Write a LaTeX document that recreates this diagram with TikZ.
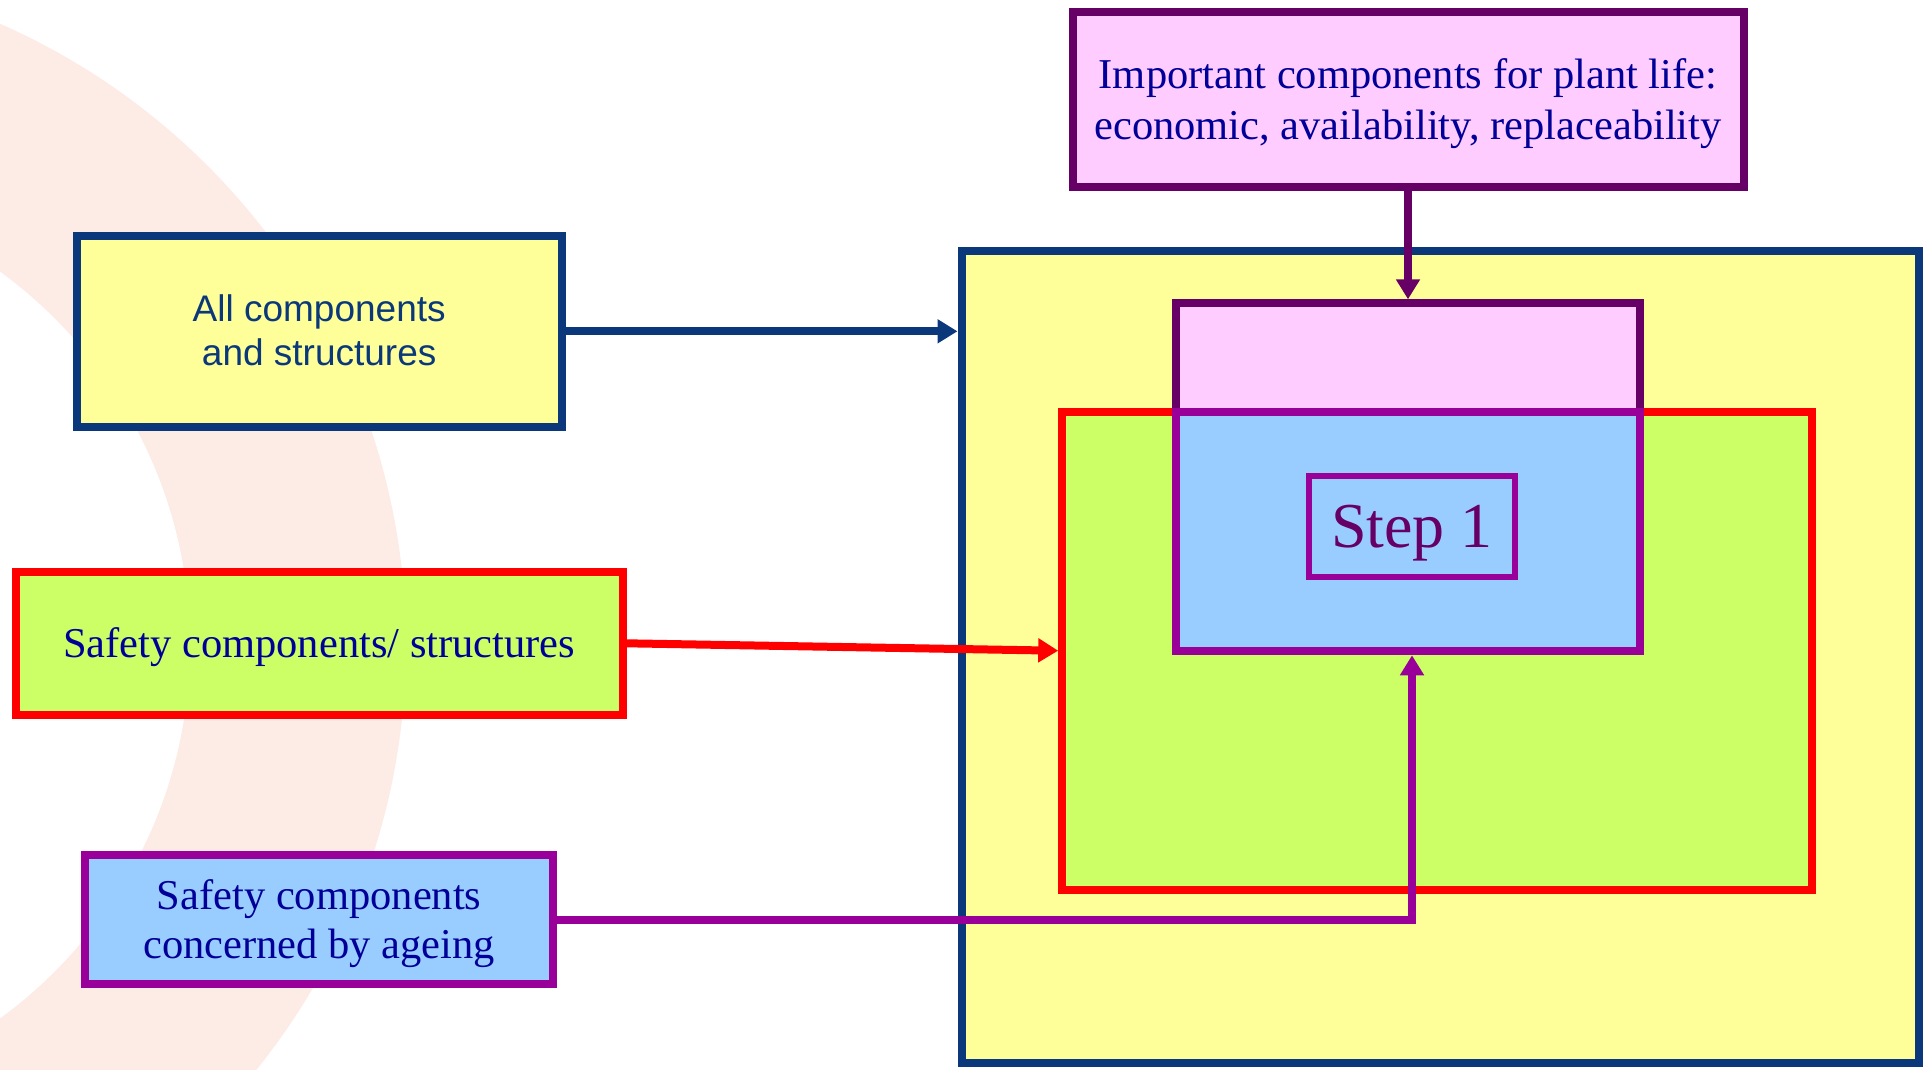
\documentclass[tikz,border=0pt]{standalone}
\usepackage{fontspec}
\setmainfont{Liberation Serif}
\newfontfamily\arialfont{Liberation Sans}
\usepackage{tikz}
\usetikzlibrary{arrows.meta, positioning}
\definecolor{my_navy}{RGB}{10, 56, 122}
\definecolor{my_yellow}{RGB}{255, 255, 153}
\definecolor{my_green}{RGB}{204, 255, 102}
\definecolor{my_blue}{RGB}{153, 204, 255}
\definecolor{my_pink}{RGB}{255, 204, 255}
\definecolor{my_red}{RGB}{255, 0, 0}
\definecolor{my_purple}{RGB}{153, 0, 153}
\definecolor{my_plum}{RGB}{102, 0, 102}
\definecolor{my_ink}{RGB}{0, 0, 153}
\definecolor{my_peach}{RGB}{253, 235, 229}
\newcommand{\ppstrut}{\rule[-0.216em]{0pt}{1.107em}}
\tikzset {
  box/.style = {draw, line width=8pt, rectangle, inner sep=0pt, align=center},
  rmtext/.style = {font=\fontsize{42.5pt}{51pt}\selectfont, text=my_ink},
  sftext/.style = {font=\arialfont\fontsize{37pt}{44.4pt}\selectfont, text=my_navy},
  line/.style = {->, line width=8pt, >={Triangle[length=20pt, width=23pt]}},
}

\begin{document}
\begin{tikzpicture}[x=1pt, y=-1pt]
    \useasboundingbox (0,0) rectangle (1925,1069);
    \begin{scope}
      \clip (0,0) rectangle (1925,1069);
      \fill[my_peach, even odd rule] (-272,645) circle [radius=678pt] (-272,645) circle [radius=462pt];
    \end{scope}

    \node[box, draw=my_navy, fill=my_yellow, minimum width=957.8pt, minimum height=811.7pt, name=plant] (plant) at (1440.4,657.1) {};
    \node[box, draw=my_red, fill=my_green, minimum width=749.5pt, minimum height=478.1pt, name=safe] (safe) at (1437,650.7) {};
    \node[box, draw=my_plum, fill=my_pink, minimum width=464pt, minimum height=108.4pt, name=life] (life) at (1408,357.5) {};
    \node[box, draw=my_purple, fill=my_blue, minimum width=464pt, minimum height=239.6pt, name=aged] (aged) at (1408,531.5) {};
    \node[box, draw=my_purple, fill=my_blue, line width=6pt, minimum width=206pt, minimum height=101.3pt, font=\fontsize{64pt}{77pt}\selectfont, text=my_plum, name=step] (step) at (1412,526.3) {\ppstrut Step 1};

    \node[box, draw=my_plum, fill=my_pink, rmtext, minimum width=671pt, minimum height=175pt, name=important] (important) at (1408,99.5) {\ppstrut Important components for plant life:\\\ppstrut economic, availability, replaceability};

    \node[box, draw=my_navy, fill=my_yellow, sftext, minimum width=485pt, minimum height=191.3pt, name=all] (all) at (319.2,331.3) {\ppstrut All components\\\ppstrut and structures};
    \node[box, draw=my_red, fill=my_green, rmtext, minimum width=607pt, minimum height=143.3pt, name=safety, below=136.7pt of all] (safety) {\ppstrut Safety components/ structures};
    \node[box, draw=my_purple, fill=my_blue, rmtext, font=\fontsize{42.5pt}{49.3pt}\selectfont, minimum width=468pt, minimum height=129.7pt, name=ageing, below=131.7pt of safety] (ageing) {\ppstrut Safety components\\\ppstrut concerned by ageing};

    \draw[line, my_navy] (all.east) -- (all.east -| plant.west);
    \draw[line, my_red] (safety.east) -- (safe.west);
    \draw[line, my_purple] (ageing.east) -| (step.south |- aged.south);
    \draw[line, my_plum] (important.south) -- (life.north);

  \end{tikzpicture}
\end{document}
